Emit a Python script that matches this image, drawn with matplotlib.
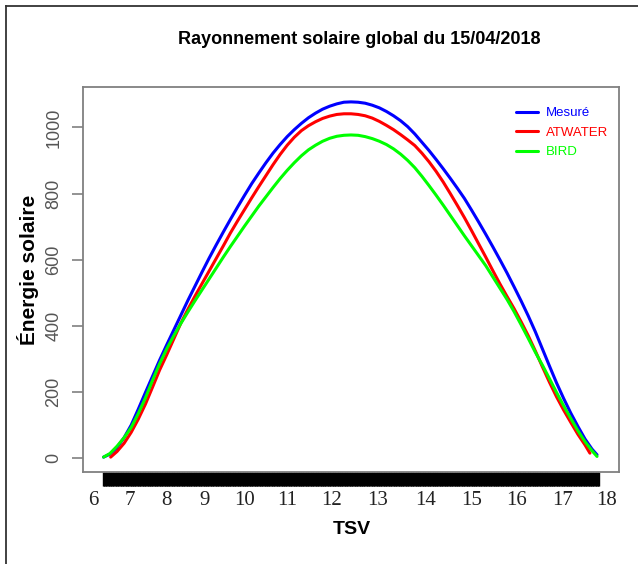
from __future__ import annotations

import matplotlib.pyplot as plt
from matplotlib.lines import Line2D


TITLE = "Rayonnement solaire global du 15/04/2018"
XLABEL = "TSV"
YLABEL = "Énergie solaire"

# x is the observation index (one per minute), as in the original plot
N_OBS = 700
TSV_LABELS = ["6", "7", "8", "9", "10", "11", "12", "13", "14", "15", "16", "17", "18"]
TSV_POS = [-13, 38, 90, 144, 200, 260, 322, 387, 455, 520, 584, 649, 711]
Y_TICKS = [0, 200, 400, 600, 800, 1000]

MESURE_X = [1, 10, 20, 30, 40, 50, 60, 70, 80, 90, 100, 110, 120, 130, 140, 150,
            160, 170, 180, 190, 200, 210, 220, 230, 240, 250, 260, 270, 280, 290,
            300, 310, 320, 330, 340, 350, 360, 370, 380, 390, 400, 410, 420, 430,
            440, 450, 460, 470, 480, 490, 500, 510, 520, 530, 540, 550, 560, 570,
            580, 590, 600, 610, 620, 630, 640, 650, 660, 670, 680, 690, 697]
MESURE_Y = [3, 12, 32, 62, 100, 148, 198, 247, 296, 342, 387, 432, 477, 520, 563,
            605, 645, 684, 722, 759, 795, 830, 862, 893, 922, 948, 972, 993, 1012,
            1029, 1043, 1055, 1064, 1071, 1076, 1077, 1076, 1073, 1067, 1059, 1048,
            1035, 1020, 1002, 980, 955, 930, 903, 875, 846, 816, 785, 750, 714, 677,
            639, 600, 560, 518, 475, 430, 382, 330, 278, 227, 180, 136, 96, 58, 27, 10]

ATWATER_X = [11, 20, 30, 40, 50, 60, 70, 80, 90, 100, 110, 120, 130, 140, 150,
             160, 170, 180, 190, 200, 210, 220, 230, 240, 250, 260, 270, 280, 290,
             300, 310, 320, 330, 340, 350, 360, 370, 380, 390, 400, 410, 420, 430,
             440, 450, 460, 470, 480, 490, 500, 510, 520, 530, 540, 550, 560, 570,
             580, 590, 600, 610, 620, 630, 640, 650, 660, 670, 680, 687]
ATWATER_Y = [3, 20, 45, 78, 118, 163, 214, 266, 312, 360, 408, 450, 490, 528, 566,
             604, 642, 681, 717, 752, 787, 821, 854, 887, 918, 946, 970, 990, 1005,
             1017, 1027, 1034, 1039, 1041, 1041, 1039, 1035, 1028, 1018, 1006, 993,
             978, 962, 945, 922, 896, 867, 835, 800, 764, 727, 688, 648, 608, 567,
             527, 489, 452, 412, 370, 324, 276, 229, 185, 145, 108, 72, 40, 15]

BIRD_X = [1, 10, 20, 30, 40, 50, 60, 70, 80, 90, 100, 110, 120, 130, 140, 150,
          160, 170, 180, 190, 200, 210, 220, 230, 240, 250, 260, 270, 280, 290,
          300, 310, 320, 330, 340, 350, 360, 370, 380, 390, 400, 410, 420, 430,
          440, 450, 460, 470, 480, 490, 500, 510, 520, 530, 540, 550, 560, 570,
          580, 590, 600, 610, 620, 630, 640, 650, 660, 670, 680, 690, 697]
BIRD_Y = [3, 14, 36, 62, 93, 135, 182, 235, 285, 330, 370, 407, 442, 476, 509,
          542, 575, 608, 640, 671, 702, 732, 762, 790, 818, 845, 870, 893, 914,
          932, 946, 958, 967, 973, 976, 977, 976, 972, 966, 958, 948, 935, 919,
          900, 878, 852, 824, 795, 765, 734, 703, 672, 642, 612, 582, 548, 514,
          480, 443, 403, 362, 320, 281, 240, 198, 158, 120, 83, 50, 22, 5]

SERIES = [
    ("Mesuré", MESURE_X, MESURE_Y, "#0000ff"),
    ("ATWATER", ATWATER_X, ATWATER_Y, "#ff0000"),
    ("BIRD", BIRD_X, BIRD_Y, "#00ff00"),
]

SANS = "Liberation Sans"


def main():
    fig = plt.figure(figsize=(6.38, 5.64), dpi=100)
    ax = fig.add_axes([83 / 638, 1 - 472 / 564, (619 - 83) / 638, (472 - 87) / 564])

    for label, xs, ys, color in SERIES:
        ax.plot(xs, ys, color=color, linewidth=2.2, label=label,
                solid_capstyle="round", solid_joinstyle="round")

    ax.set_xlim(-28, 728)
    ax.set_ylim(-42, 1122)

    for side in ax.spines.values():
        side.set_color("#808080")
        side.set_linewidth(1.3)

    # one tick per observation -> the black band under the plot
    ax.xaxis.remove_overlapping_locs = False
    ax.set_xticks(range(0, N_OBS + 1), minor=True)
    ax.tick_params(axis="x", which="minor", length=10, width=1, color="black",
                   direction="out")
    ax.set_xticks(TSV_POS)
    ax.set_xticklabels(TSV_LABELS, family="Liberation Serif", fontsize=15,
                       color="#222222")
    ax.tick_params(axis="x", which="major", length=0, pad=14)

    ax.set_yticks(Y_TICKS)
    ax.set_yticklabels([str(v) for v in Y_TICKS], rotation=90, va="center",
                       family=SANS, fontsize=13, color="#555555")
    ax.tick_params(axis="y", length=8, width=1.2, color="#808080", pad=7)

    fig.text(359 / 638, 1 - 40 / 564, TITLE, ha="center", va="center",
             family=SANS, fontsize=13, fontweight="bold")
    fig.text(352 / 638, 1 - 530 / 564, XLABEL, ha="center", va="center",
             family=SANS, fontsize=14, fontweight="bold")
    fig.text(28 / 638, 1 - 270 / 564, YLABEL, ha="center", va="center",
             rotation=90, family=SANS, fontsize=15, fontweight="bold")

    leg = ax.legend(loc="upper right", frameon=False, handlelength=1.67,
                    handletextpad=0.6, labelspacing=0.55, borderaxespad=0,
                    bbox_to_anchor=(0.989, 0.962),
                    prop={"family": SANS, "size": 9.5})
    for text, (_, _, _, color) in zip(leg.get_texts(), SERIES):
        text.set_color(color)

    # outer frame (top and left edges only)
    fig.add_artist(Line2D([6 / 638, 1], [1 - 6 / 564, 1 - 6 / 564],
                          color="#333333", linewidth=1.3))
    fig.add_artist(Line2D([6 / 638, 6 / 638], [0, 1 - 6 / 564],
                          color="#333333", linewidth=1.3))

    fig.savefig("out.png", dpi=100)
    plt.close(fig)


if __name__ == "__main__":
    main()
